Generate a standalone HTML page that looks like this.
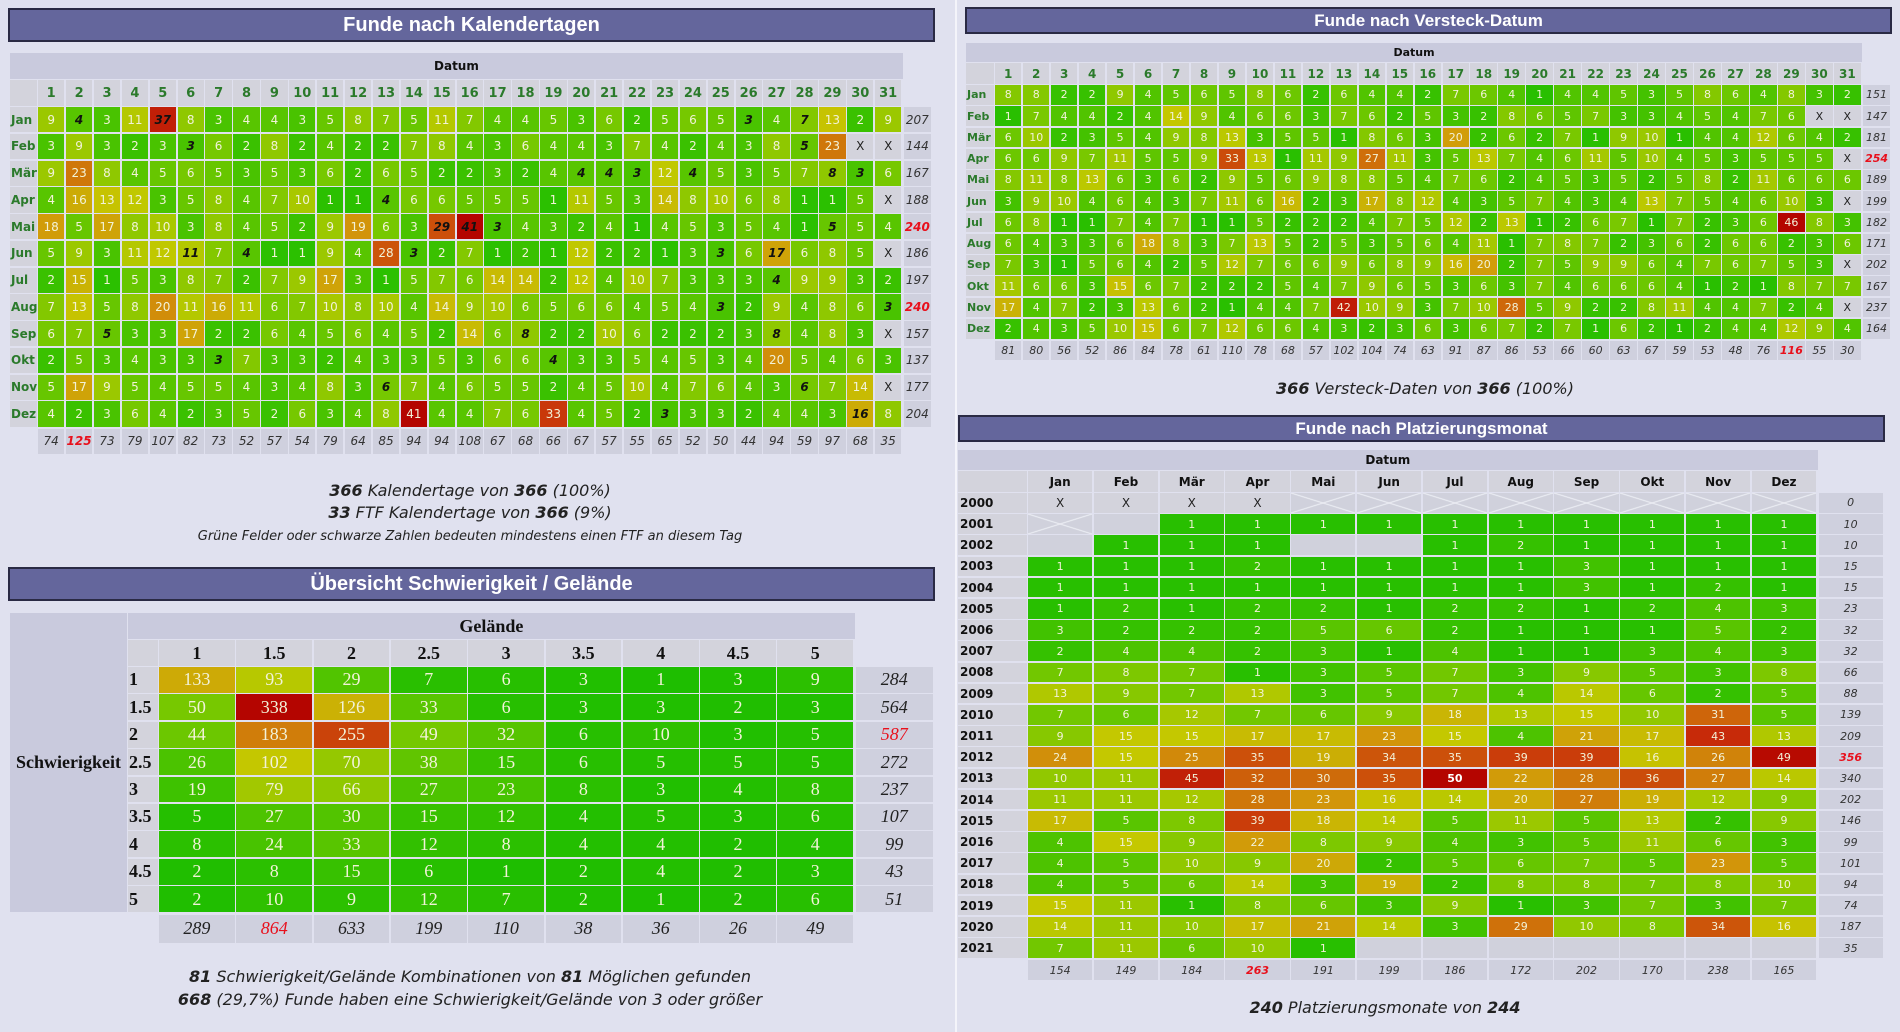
<!DOCTYPE html>
<html><head><meta charset="utf-8">
<style>
body{margin:0;width:1900px;height:1032px;background:#e0e1ef;position:relative;overflow:hidden;font-family:"DejaVu Sans","Liberation Sans",sans-serif;}
.c{position:absolute;display:flex;align-items:center;justify-content:center;box-sizing:border-box;white-space:nowrap;}
.title{position:absolute;background:#64669c;border:2px solid #2a2a44;color:#fff;font-family:"Liberation Sans",sans-serif;font-weight:bold;display:flex;align-items:center;justify-content:center;box-sizing:border-box;}
.txt{position:absolute;text-align:center;font-family:"DejaVu Sans","Liberation Sans",sans-serif;font-style:italic;color:#222;white-space:nowrap;}
.txt b{font-weight:bold;}
</style></head>
<body>
<div style="position:absolute;left:955px;top:0;width:2px;height:1032px;background:#f4f4fa"></div>

<div class="title" style="left:8px;top:8px;width:927px;height:34px;font-size:20px">Funde nach Kalendertagen</div>
<div class="title" style="left:965px;top:7px;width:927px;height:27px;font-size:17px">Funde nach Versteck-Datum</div>
<div class="title" style="left:8px;top:567px;width:927px;height:34px;font-size:20px">Übersicht Schwierigkeit / Gelände</div>
<div class="title" style="left:958px;top:415px;width:927px;height:27px;font-size:17px">Funde nach Platzierungsmonat</div>

<div class="txt" style="left:70px;top:480px;width:800px;font-size:16px;line-height:22px"><b>366</b> Kalendertage von <b>366</b> (100%)<br><b>33</b> FTF Kalendertage von <b>366</b> (9%)<br><span style="font-size:13px">Grüne Felder oder schwarze Zahlen bedeuten mindestens einen FTF an diesem Tag</span></div>
<div class="txt" style="left:1125px;top:379px;width:600px;font-size:16px"><b>366</b> Versteck-Daten von <b>366</b> (100%)</div>
<div class="txt" style="left:100px;top:965px;width:740px;font-size:16px;line-height:23px"><b>81</b> Schwierigkeit/Gelände Kombinationen von <b>81</b> Möglichen gefunden<br><b>668</b> (29,7%) Funde haben eine Schwierigkeit/Gelände von 3 oder größer</div>
<div class="txt" style="left:1100px;top:998px;width:570px;font-size:16px"><b>240</b> Platzierungsmonate von <b>244</b></div>

<div id="root"></div>
<script>
const calMonths = ["Jan","Feb","Mär","Apr","Mai","Jun","Jul","Aug","Sep","Okt","Nov","Dez"];
const calDays = Array.from({length:31},(_,i)=>String(i+1));
const calValues = [
[9,4,3,11,37,8,3,4,4,3,5,8,7,5,11,7,4,4,5,3,6,2,5,6,5,3,4,7,13,2,9],
[3,9,3,2,3,3,6,2,8,2,4,2,2,7,8,4,3,6,4,4,3,7,4,2,4,3,8,5,23,0,0],
[9,23,8,4,5,6,5,3,5,3,6,2,6,5,2,2,3,2,4,4,4,3,12,4,5,3,5,7,8,3,6],
[4,16,13,12,3,5,8,4,7,10,1,1,4,6,6,5,5,5,1,11,5,3,14,8,10,6,8,1,1,5,0],
[18,5,17,8,10,3,8,4,5,2,9,19,6,3,29,41,3,4,3,2,4,1,4,5,3,5,4,1,5,5,4],
[5,9,3,11,12,11,7,4,1,1,9,4,28,3,2,7,1,2,1,12,2,2,1,3,3,6,17,6,8,5,0],
[2,15,1,5,3,8,7,2,7,9,17,3,1,5,7,6,14,14,2,12,4,10,7,3,3,3,4,9,9,3,2],
[7,13,5,8,20,11,16,11,6,7,10,8,10,4,14,9,10,6,5,6,6,4,5,4,3,2,9,4,8,6,3],
[6,7,5,3,3,17,2,2,6,4,5,6,4,5,2,14,6,8,2,2,10,6,2,2,2,3,8,4,8,3,0],
[2,5,3,4,3,3,3,7,3,3,2,4,3,3,5,3,6,6,4,3,3,5,4,5,3,4,20,5,4,6,3],
[5,17,9,5,4,5,5,4,3,4,8,3,6,7,4,6,5,5,2,4,5,10,4,7,6,4,3,6,7,14,0],
[4,2,3,6,4,2,3,5,2,6,3,4,8,41,4,4,7,6,33,4,5,2,3,3,3,2,4,4,3,16,8]];
const calRowTotals = [207,144,167,188,240,186,197,240,157,137,177,204];
const calColTotals = [74,125,73,79,107,82,73,52,57,54,79,64,85,94,94,108,67,68,66,67,57,55,65,52,50,44,94,59,97,68,35];
const calFtf = [[0,1],[0,4],[0,25],[0,27],[1,5],[1,27],[2,19],[2,20],[2,21],[2,23],[2,28],[2,29],[3,12],[4,14],[4,15],[4,16],[4,28],[5,5],[5,7],[5,13],[5,24],[5,26],[6,26],[7,24],[7,30],[8,2],[8,17],[8,26],[9,6],[9,18],[10,12],[10,27],[11,22],[11,29]];

const hideValues = [
[8,8,2,2,9,4,5,6,5,8,6,2,6,4,4,2,7,6,4,1,4,4,5,3,5,8,6,4,8,3,2],
[1,7,4,4,2,4,14,9,4,6,6,3,7,6,2,5,3,2,8,6,5,7,3,3,4,5,4,7,6,0,0],
[6,10,2,3,5,4,9,8,13,3,5,5,1,8,6,3,20,2,6,2,7,1,9,10,1,4,4,12,6,4,2],
[6,6,9,7,11,5,5,9,33,13,1,11,9,27,11,3,5,13,7,4,6,11,5,10,4,5,3,5,5,5,0],
[8,11,8,13,6,3,6,2,9,5,6,9,8,8,5,4,7,6,2,4,5,3,5,2,5,8,2,11,6,6,6],
[3,9,10,4,6,4,3,7,11,6,16,2,3,17,8,12,4,3,5,7,4,3,4,13,7,5,4,6,10,3,0],
[6,8,1,1,7,4,7,1,1,5,2,2,2,4,7,5,12,2,13,1,2,6,7,1,7,2,3,6,46,8,3],
[6,4,3,3,6,18,8,3,7,13,5,2,5,3,5,6,4,11,1,7,8,7,2,3,6,2,6,6,2,3,6],
[7,3,1,5,6,4,2,5,12,7,6,6,9,6,8,9,16,20,2,7,5,9,9,6,4,7,6,7,5,3,0],
[11,6,6,3,15,6,7,2,2,2,5,4,7,9,6,5,3,6,3,7,4,6,6,6,4,1,2,1,8,7,7],
[17,4,7,2,3,13,6,2,1,4,4,7,42,10,9,3,7,10,28,5,9,2,2,8,11,4,4,7,2,4,0],
[2,4,3,5,10,15,6,7,12,6,6,4,3,2,3,6,3,6,7,2,7,1,6,2,1,2,4,4,12,9,4]];
const hideRowTotals = [151,147,181,254,189,199,182,171,202,167,237,164];
const hideColTotals = [81,80,56,52,86,84,78,61,110,78,68,57,102,104,74,63,91,87,86,53,66,60,63,67,59,53,48,76,116,55,30];

const dtLabels = ["1","1.5","2","2.5","3","3.5","4","4.5","5"];
const dtValues = [
[133,93,29,7,6,3,1,3,9],
[50,338,126,33,6,3,3,2,3],
[44,183,255,49,32,6,10,3,5],
[26,102,70,38,15,6,5,5,5],
[19,79,66,27,23,8,3,4,8],
[5,27,30,15,12,4,5,3,6],
[8,24,33,12,8,4,4,2,4],
[2,8,15,6,1,2,4,2,3],
[2,10,9,12,7,2,1,2,6]];
const dtRowTotals = [284,564,587,272,237,107,99,43,51];
const dtColTotals = [289,864,633,199,110,38,36,26,49];

const plYears = ["2000","2001","2002","2003","2004","2005","2006","2007","2008","2009","2010","2011","2012","2013","2014","2015","2016","2017","2018","2019","2020","2021"];
const plValues = [
["X","X","X","X","c","c","c","c","c","c","c","c"],
["c",null,1,1,1,1,1,1,1,1,1,1],
[null,1,1,1,null,null,1,2,1,1,1,1],
[1,1,1,2,1,1,1,1,3,1,1,1],
[1,1,1,1,1,1,1,1,3,1,2,1],
[1,2,1,2,2,1,2,2,1,2,4,3],
[3,2,2,2,5,6,2,1,1,1,5,2],
[2,4,4,2,3,1,4,1,1,3,4,3],
[7,8,7,1,3,5,7,3,9,5,3,8],
[13,9,7,13,3,5,7,4,14,6,2,5],
[7,6,12,7,6,9,18,13,15,10,31,5],
[9,15,15,17,17,23,15,4,21,17,43,13],
[24,15,25,35,19,34,35,39,39,16,26,49],
[10,11,45,32,30,35,50,22,28,36,27,14],
[11,11,12,28,23,16,14,20,27,19,12,9],
[17,5,8,39,18,14,5,11,5,13,2,9],
[4,15,9,22,8,9,4,3,5,11,6,3],
[4,5,10,9,20,2,5,6,7,5,23,5],
[4,5,6,14,3,19,2,8,8,7,8,10],
[15,11,1,8,6,3,9,1,3,7,3,7],
[14,11,10,17,21,14,3,29,10,8,34,16],
[7,11,6,10,1,null,null,null,null,null,null,null]];
const plRowTotals = [0,10,10,15,15,23,32,32,66,88,139,209,356,340,202,146,99,101,94,74,187,35];
const plColTotals = [154,149,184,263,191,199,186,172,202,170,238,165];

const root = document.getElementById('root');
const stops = [[0,[28,190,0]],[0.15,[120,200,0]],[0.3,[196,200,0]],[0.45,[210,152,10]],[0.65,[205,92,10]],[0.85,[200,45,10]],[1,[180,5,0]]];
function heat(v,max){
  const r = Math.max(0,Math.min(1,v/max));
  for(let i=1;i<stops.length;i++){
    if(r<=stops[i][0]){
      const a=stops[i-1],b=stops[i],t=(r-a[0])/(b[0]-a[0]);
      const c=a[1].map((x,k)=>Math.round(x+(b[1][k]-x)*t));
      return 'rgb('+c.join(',')+')';
    }
  }
  return 'rgb(180,5,0)';
}
function box(x,y,w,h,bg,text,css,name,inter){
  const el=document.createElement('div');
  el.className='c';
  el.style.cssText='left:'+x+'px;top:'+y+'px;width:'+w+'px;height:'+h+'px;background:'+bg+';'+(css||'');
  el.textContent=text;
  
  
  root.appendChild(el);
  return el;
}
const HDR='#c9cadd', LBL='#d3d3dc', TOT='#cfd0de';
const cellText='color:#f2f2d8;';

function dayGrid(o){
  const nR=o.values.length,nC=o.values[0].length;
  box(o.labelX,o.datumY,o.x0+nC*o.cw-o.labelX,o.y0-o.hh-o.datumY-1,HDR,'Datum','font-weight:bold;font-size:'+o.fs+'px;color:#111;',o.prefix+'-datum-header');
  box(o.labelX,o.y0-o.hh,o.x0-o.labelX-1,o.hh-1,LBL,'','',o.prefix+'-corner');
  for(let j=0;j<nC;j++){
    box(o.x0+j*o.cw,o.y0-o.hh,o.cw-1.5,o.hh-1,LBL,calDays[j],'font-weight:bold;color:#2b7a2b;font-size:'+(o.fs+1)+'px;',o.prefix+'-day-header');
  }
  for(let i=0;i<nR;i++){
    const y=o.y0+i*o.ch;
    box(o.labelX,y,o.x0-o.labelX-1,o.ch-1.5,LBL,calMonths[i],'font-weight:bold;color:#2b7a2b;font-size:'+o.fs+'px;justify-content:flex-start;padding-left:1px;',o.prefix+'-month-label');
    for(let j=0;j<nC;j++){
      const v=o.values[i][j];
      const ftf=o.ftf.some(p=>p[0]===i&&p[1]===j);
      if(v===0){
        box(o.x0+j*o.cw,y,o.cw-1.5,o.ch-1.5,LBL,'X','color:#222;font-size:'+o.fs+'px;',o.prefix+'-empty-cell');
      } else {
        box(o.x0+j*o.cw,y,o.cw-1.5,o.ch-1.5,heat(v,o.max),String(v),(ftf?'color:#111;font-weight:bold;font-style:italic;':cellText)+'font-size:'+o.fs+'px;',o.prefix+'-cell');
      }
    }
    const rt=o.rowTotals[i], isMax=rt===Math.max(...o.rowTotals);
    box(o.x0+nC*o.cw+1,y,o.cw-1,o.ch-1.5,TOT,String(rt),'font-style:italic;font-size:'+o.fs+'px;'+(isMax?'color:#e8101c;font-weight:bold;':'color:#333;'),o.prefix+'-row-total');
  }
  const ty=o.y0+nR*o.ch+1;
  for(let j=0;j<nC;j++){
    const ct=o.colTotals[j], isMax=ct===Math.max(...o.colTotals);
    box(o.x0+j*o.cw,ty,o.cw-1.5,o.ch-2,TOT,String(ct),'font-style:italic;font-size:'+o.fs+'px;'+(isMax?'color:#e8101c;font-weight:bold;':'color:#333;'),o.prefix+'-col-total');
  }
}
dayGrid({prefix:'cal',x0:38,y0:107,cw:27.9,ch:26.75,hh:27,labelX:10,datumY:53,values:calValues,rowTotals:calRowTotals,colTotals:calColTotals,ftf:calFtf,max:41,fs:12});
dayGrid({prefix:'hide',x0:995,y0:85,cw:27.97,ch:21.25,hh:22,labelX:966,datumY:43,values:hideValues,rowTotals:hideRowTotals,colTotals:hideColTotals,ftf:[],max:46,fs:11});

(function(){
  const x0=159,y0=667,cw=77.3,ch=27.4,serif='font-family:"Liberation Serif",serif;';
  box(10,613,117,299,HDR,'Schwierigkeit',serif+'font-weight:bold;font-size:18px;color:#111;','difficulty-axis-title');
  box(128,613,x0+9*cw-128,26,HDR,'Gelände',serif+'font-weight:bold;font-size:18px;color:#111;','terrain-axis-title');
  box(128,640,30,26,LBL,'','','dt-corner');
  for(let j=0;j<9;j++) box(x0+j*cw,640,cw-1.5,26,LBL,dtLabels[j],serif+'font-weight:bold;font-size:18px;color:#111;','terrain-header');
  for(let i=0;i<9;i++){
    const y=y0+i*ch;
    box(128,y,30,ch-1.5,LBL,dtLabels[i],serif+'font-weight:bold;font-size:18px;color:#111;justify-content:flex-start;padding-left:1px;','difficulty-label');
    for(let j=0;j<9;j++){
      const v=dtValues[i][j];
      box(x0+j*cw,y,cw-1.5,ch-1.5,heat(v,338),String(v),serif+'font-size:18px;'+cellText,'dt-cell');
    }
    const rt=dtRowTotals[i],isMax=rt===Math.max(...dtRowTotals);
    box(x0+9*cw+1,y,77,ch-1.5,TOT,String(rt),serif+'font-style:italic;font-size:18px;'+(isMax?'color:#e8101c;':'color:#222;'),'dt-row-total');
  }
  const ty=y0+9*ch+1;
  for(let j=0;j<9;j++){
    const ct=dtColTotals[j],isMax=ct===Math.max(...dtColTotals);
    box(x0+j*cw,ty,cw-1.5,28,TOT,String(ct),serif+'font-style:italic;font-size:18px;'+(isMax?'color:#e8101c;':'color:#222;'),'dt-col-total');
  }
})();

(function(){
  const x0=1028,y0=493,cw=65.8,ch=21.2;
  const cross='linear-gradient(to top right,transparent calc(50% - 1px),#eef0f6 50%,transparent calc(50% + 1px)),linear-gradient(to bottom right,transparent calc(50% - 1px),#eef0f6 50%,transparent calc(50% + 1px)),#d0d1dc';
  box(958,450,x0+12*cw-958,20,HDR,'Datum','font-weight:bold;font-size:12px;color:#111;','placement-datum-header');
  box(958,471,x0-959,21,LBL,'','','placement-corner');
  for(let j=0;j<12;j++) box(x0+j*cw,471,cw-1.5,21,LBL,calMonths[j],'font-weight:bold;font-size:12px;color:#111;','placement-month-header');
  for(let i=0;i<plYears.length;i++){
    const y=y0+i*ch;
    box(958,y,x0-959,ch-1.5,LBL,plYears[i],'font-weight:bold;font-size:12px;color:#111;justify-content:flex-start;padding-left:2px;','placement-year-label');
    for(let j=0;j<12;j++){
      const v=plValues[i][j];
      const x=x0+j*cw;
      if(v===null) box(x,y,cw-1.5,ch-1.5,'#d0d1dc','','','placement-empty-cell');
      else if(v==='c') box(x,y,cw-1.5,ch-1.5,cross,'','','placement-crossed-cell');
      else if(v==='X') box(x,y,cw-1.5,ch-1.5,LBL,'X','font-size:12px;color:#222;','placement-x-cell');
      else box(x,y,cw-1.5,ch-1.5,heat(v,50),String(v),'font-size:11px;'+(v===50?'color:#fff;font-weight:bold;':cellText),'placement-cell');
    }
    const rt=plRowTotals[i],isMax=rt===Math.max(...plRowTotals);
    box(x0+12*cw+1,y,64,ch-1.5,TOT,String(rt),'font-style:italic;font-size:11px;'+(isMax?'color:#e8101c;font-weight:bold;':'color:#333;'),'placement-row-total');
  }
  const ty=y0+plYears.length*ch+1;
  for(let j=0;j<12;j++){
    const ct=plColTotals[j],isMax=ct===Math.max(...plColTotals);
    box(x0+j*cw,ty,cw-1.5,20,TOT,String(ct),'font-style:italic;font-size:11px;'+(isMax?'color:#e8101c;font-weight:bold;':'color:#333;'),'placement-col-total');
  }
})();
</script>
</body></html>
